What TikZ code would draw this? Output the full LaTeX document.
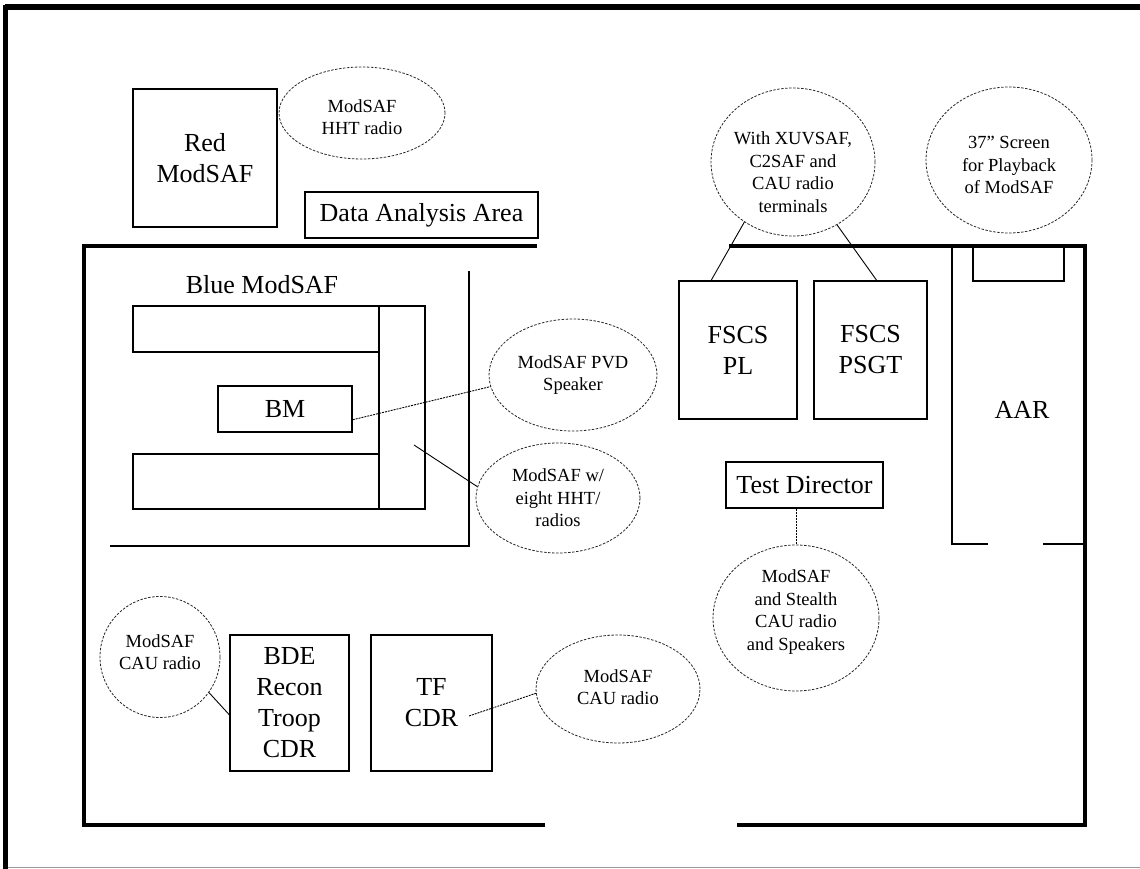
\documentclass[tikz,border=0pt]{standalone}
\usepackage{fontspec}
\setmainfont{Liberation Serif}
\usetikzlibrary{shapes.geometric,calc}

\begin{document}
\begin{tikzpicture}[x=1pt,y=-1pt,
  box/.style={draw, line width=1.5pt, inner sep=0pt, align=center, font=\fontsize{26}{31}\selectfont},
  bubble/.style={ellipse, draw=black!85, line width=0.8pt, dash pattern=on 2.5pt off 1.5pt, inner sep=0pt},
  note/.style={align=center, font=\fontsize{18.5}{22.5}\selectfont},
  wall/.style={line width=4.5pt},
  partition/.style={line width=1.5pt},
  link/.style={line width=0.9pt},
  dotlink/.style={line width=0.9pt, dash pattern=on 2pt off 1pt}]
\useasboundingbox (0,0) rectangle (1140,869);

% outer frame
\draw[line width=6pt] (5,7) -- (1140,7);
\draw[line width=5pt] (5.5,5) -- (5.5,869);
\draw[line width=0.8pt, black!40] (8,867.5) -- (1140,867.5);

% room walls
\draw[wall] (537,246) -- (84,246) -- (84,825) -- (545,825);
\draw[wall] (729,246) -- (1085,246) -- (1085,825) -- (737,825);

% blue ModSAF corner
\draw[partition] (469,271) -- (469,546) -- (110,546);
\foreach \xa/\ya/\xb/\yb in {133/306/379/352, 379/306/425/509, 133/454/379/509}
  \draw[partition] (\xa,\ya) rectangle (\xb,\yb);
\node[font=\fontsize{26}{31}\selectfont] (blue) at (262,285) {Blue ModSAF};
\coordinate (rackpt) at (414,445);

% AAR corner
\draw[partition] (988,544) -- (952,544) -- (952,246);
\draw[partition] (1043,544) -- (1085,544);
\draw[partition] (973,246) rectangle (1064,281);
\node[font=\fontsize{26}{31}\selectfont] (aar) at (1022,410) {AAR};

% stations
\node[box, minimum width=144pt, minimum height=138pt] (red) at (205,158) {Red\\ModSAF};
\node[box, minimum width=233pt, minimum height=46pt] (data) at (421.5,215) {Data Analysis Area};
\node[box, minimum width=134pt, minimum height=46pt] (bm) at (285,409) {BM};
\node[box, minimum width=118pt, minimum height=138pt] (pl) at (738,350) {FSCS\\PL};
\node[box, minimum width=113pt, minimum height=138pt] (psgt) at (870.5,350) {FSCS\\PSGT};
\node[box, minimum width=157pt, minimum height=46pt] (td) at (804.5,485) {Test Director};
\node[box, minimum width=119pt, minimum height=136pt] (bde) at (289.5,703) {BDE\\Recon\\Troop\\CDR};
\node[box, minimum width=121pt, minimum height=136pt] (tf) at (431.5,703) {TF\\CDR};
\coordinate (tfpt) at (469,716);

% radio bubbles
\node[bubble, minimum width=166pt, minimum height=92pt] (hht) at (362,113) {};
\node[note] at (362,117) {ModSAF\\HHT radio};
\node[bubble, minimum width=164pt, minimum height=148pt] (xuv) at (793,162) {};
\node[note] at (793,172) {With XUVSAF,\\C2SAF and\\CAU radio\\terminals};
\node[bubble, minimum width=166pt, minimum height=146pt] (screen) at (1009,160) {};
\node[note] at (1009,165) {37” Screen\\for Playback\\of ModSAF};
\node[bubble, minimum width=168pt, minimum height=112pt] (pvd) at (573,375) {};
\node[note] at (573,375) {ModSAF PVD\\Speaker};
\node[bubble, minimum width=164pt, minimum height=110pt] (eight) at (558,498) {};
\node[note] at (558,498) {ModSAF w/\\eight HHT/\\radios};
\node[bubble, minimum width=166pt, minimum height=146pt] (stealth) at (796,618) {};
\node[note] at (796,612) {ModSAF\\and Stealth\\CAU radio\\and Speakers};
\node[bubble, minimum width=120pt, minimum height=121pt] (cau1) at (160,657) {};
\node[note] at (160,652) {ModSAF\\CAU radio};
\node[bubble, minimum width=164pt, minimum height=108pt] (cau2) at (618,689) {};
\node[note] at (618,687) {ModSAF\\CAU radio};

% connectors
\draw[dotlink] (bm.-9) -- (pvd.188);
\draw[link] (rackpt) -- (eight.172);
\draw[link] (xuv.231) -- (pl.111);
\draw[link] (xuv.305) -- (psgt.85);
\draw[dotlink] (stealth.north |- td.south) -- (stealth.north);
\draw[link] (cau1.324) -- (bde.191);
\draw[dotlink] (tfpt) -- (cau2.183);
\end{tikzpicture}
\end{document}
